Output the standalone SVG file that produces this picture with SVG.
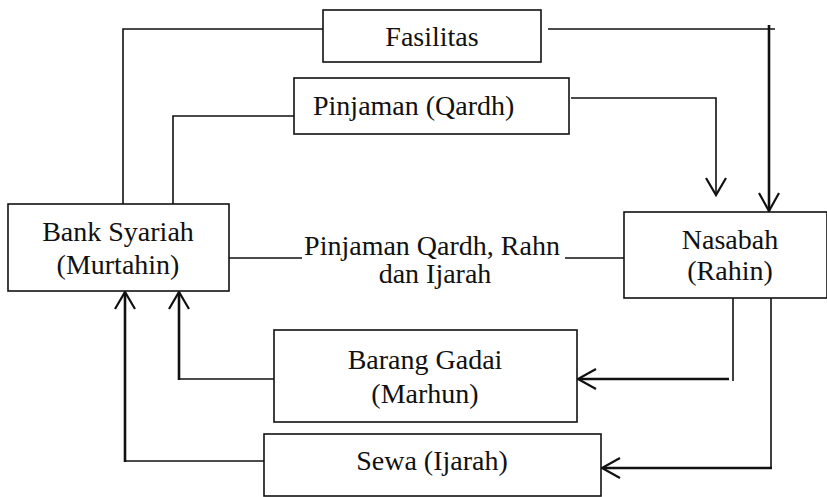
<svg xmlns="http://www.w3.org/2000/svg" width="827" height="497" viewBox="0 0 827 497">
<style>
.box{fill:#fff;stroke:#111;stroke-width:1.6}
.t{font-family:"Liberation Serif","Times New Roman",serif;font-size:28px;fill:#111}
.m{text-anchor:middle}
.ln{fill:none;stroke:#111;stroke-width:1.6}
.lnb{fill:none;stroke:#111;stroke-width:2.6}
.ah{fill:none;stroke:#111;stroke-width:2.2}
</style>
<rect width="827" height="497" fill="#fff"/>
<g id="connectors">
  <!-- Fasilitas -> Nasabah -->
  <polyline class="ln" points="123,204 123,29 323,29"/>
  <polyline class="ln" points="548,29 775,29"/>
  <line class="lnb" x1="769" y1="25" x2="769" y2="211"/>
  <polyline class="ah" points="759,193 769,211 779,193"/>
  <!-- Pinjaman (Qardh) -> Nasabah -->
  <polyline class="ln" points="173,204 173,116 294,116"/>
  <polyline class="ln" points="571,98 716,98 716,195"/>
  <polyline class="ah" points="706,178 716,195 726,178"/>
  <!-- middle line -->
  <line class="ln" x1="229" y1="258" x2="302" y2="258"/>
  <line class="ln" x1="565" y1="258" x2="624" y2="258"/>
  <!-- Nasabah -> Barang Gadai -> Bank -->
  <polyline class="ln" points="733,298 733,381"/>
  <line class="lnb" x1="729" y1="379" x2="579" y2="379"/>
  <polyline class="ah" points="596,369 578,379 596,389"/>
  <polyline class="ln" points="274,379 179,379"/>
  <line class="lnb" x1="179" y1="380" x2="179" y2="293"/>
  <polyline class="ah" points="169,309 179,292 189,309"/>
  <!-- Nasabah -> Sewa -> Bank -->
  <polyline class="ln" points="771,298 771,469"/>
  <line class="lnb" x1="772" y1="468" x2="603" y2="468"/>
  <polyline class="ah" points="620,458 602,468 620,478"/>
  <polyline class="ln" points="264,461 125,461"/>
  <line class="lnb" x1="125" y1="462" x2="125" y2="293"/>
  <polyline class="ah" points="115,309 125,292 135,309"/>
</g>
<g id="fasilitas">
  <rect class="box" x="323" y="10" width="218" height="52"/>
  <text class="t m" x="432" y="46">Fasilitas</text>
</g>
<g id="pinjaman-qardh">
  <rect class="box" x="294" y="78" width="275" height="56"/>
  <text class="t" x="313" y="115">Pinjaman (Qardh)</text>
</g>
<g id="bank-syariah">
  <rect class="box" x="8" y="204" width="221" height="87"/>
  <text class="t m" x="118" y="241">Bank Syariah</text>
  <text class="t m" x="118" y="274">(Murtahin)</text>
</g>
<g id="akad-label">
  <text class="t m" x="432" y="255">Pinjaman Qardh, Rahn</text>
  <text class="t m" x="435" y="283">dan Ijarah</text>
</g>
<g id="nasabah">
  <rect class="box" x="624" y="212" width="203" height="86"/>
  <text class="t m" x="730" y="249">Nasabah</text>
  <text class="t m" x="730" y="280">(Rahin)</text>
</g>
<g id="barang-gadai">
  <rect class="box" x="274" y="330" width="303" height="92"/>
  <text class="t m" x="425" y="369">Barang Gadai</text>
  <text class="t m" x="425" y="403">(Marhun)</text>
</g>
<g id="sewa">
  <rect class="box" x="264" y="434" width="337" height="62"/>
  <text class="t m" x="432" y="470">Sewa (Ijarah)</text>
</g>
</svg>
